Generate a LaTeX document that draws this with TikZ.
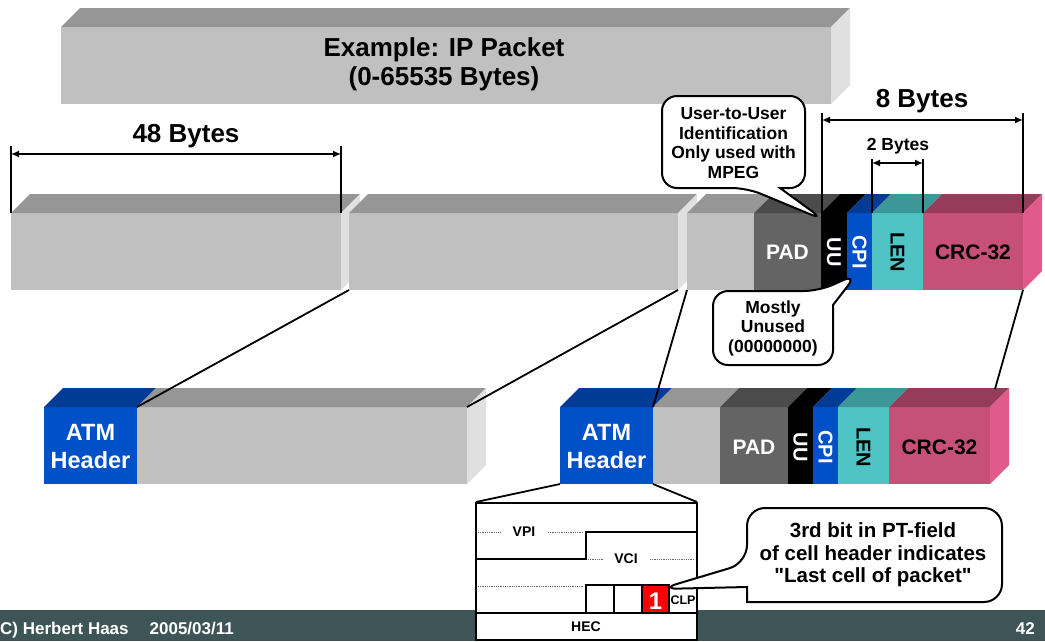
\documentclass[tikz,border=0pt]{standalone}
\usepackage{fontspec}
\setmainfont{Liberation Sans}
\usetikzlibrary{arrows.meta}
\definecolor{fgray}{HTML}{C0C0C0}
\definecolor{tgray}{HTML}{969696}
\definecolor{sgray}{HTML}{E0E0E0}
\definecolor{fpad}{HTML}{646464}
\definecolor{tpad}{HTML}{4B4B4B}
\definecolor{fblue}{HTML}{0050C8}
\definecolor{tblue}{HTML}{003C96}
\definecolor{fteal}{HTML}{50C4C4}
\definecolor{tteal}{HTML}{3C9898}
\definecolor{fcrc}{HTML}{C65078}
\definecolor{tcrc}{HTML}{963C5A}
\definecolor{scrc}{HTML}{E05A8A}
\definecolor{band}{HTML}{3D5556}
\newcommand\blkseg[6]{%
  \fill[#5] (#1,#3) rectangle (#2,#4);
  \fill[#6] (#1,#3) -- (#1+19,#3-19) -- (#2+19,#3-19) -- (#2,#3) -- cycle;}
\newcommand\blkside[4]{%
  \fill[#4] (#1,#2) -- (#1+19,#2-19) -- (#1+19,#3-19) -- (#1,#3) -- cycle;}
\tikzset{
  lbl/.style={inner sep=0, align=center},
  wlbl/.style={lbl, text=white, font=\fontsize{21}{24}\selectfont\bfseries},
  blbl/.style={lbl, text=black, font=\fontsize{21}{24}\selectfont\bfseries},
  dimtxt/.style={lbl, font=\fontsize{26}{29}\selectfont\bfseries},
  dimline/.style={line width=1.5, {Latex[length=8,width=7]}-{Latex[length=8,width=7]}},
  tickline/.style={line width=1.8},
  conn/.style={line width=1.8},
  callout/.style={draw, line width=2, fill=white},
  ctext/.style={lbl, font=\fontsize{17.5}{19.5}\selectfont\bfseries},
  boxline/.style={line width=2},
  dotline/.style={densely dotted, line width=0.8, black!60},
  small/.style={lbl, font=\fontsize{14}{16}\selectfont\bfseries},
}
\begin{document}
\begin{tikzpicture}[x=1pt,y=-1pt]
\useasboundingbox (0,0) rectangle (1045,641);
% footer band
\fill[band] (0,610) rectangle (1045,641);

% IP packet bar
\blkseg{61}{831}{27}{104}{fgray}{tgray}
\blkside{831}{27}{104}{sgray}
\node[dimtxt] (title) at (444,64) {Example: IP Packet\\(0-65535 Bytes)};

% AAL5 PDU bar
\blkseg{11}{341}{213}{290}{fgray}{tgray}
\blkside{341}{213}{290}{sgray}
\blkseg{349}{678}{213}{290}{fgray}{tgray}
\blkside{678}{213}{290}{sgray}
\blkseg{687}{754}{213}{290}{fgray}{tgray}
\blkseg{754}{821}{213}{290}{fpad}{tpad}
\blkseg{821}{847}{213}{290}{black}{black}
\blkseg{847}{872}{213}{290}{fblue}{tblue}
\blkseg{872}{923}{213}{290}{fteal}{tteal}
\blkseg{923}{1023}{213}{290}{fcrc}{tcrc}
\blkside{1023}{213}{290}{scrc}
\node[wlbl] (pad1) at (787.5,252) {PAD};
\node[wlbl, font=\fontsize{20}{22}\selectfont\bfseries, rotate=-90] (uu1) at (834,252) {UU};
\node[wlbl, font=\fontsize{20}{22}\selectfont\bfseries, rotate=-90] (cpi1) at (859.5,252) {CPI};
\node[blbl, font=\fontsize{20}{22}\selectfont\bfseries, rotate=-90] (len1) at (897.5,252) {LEN};
\node[blbl] (crc1) at (973,252) {CRC-32};

% first ATM cell
\blkseg{44}{137}{407}{484}{fblue}{tblue}
\blkseg{137}{467}{407}{484}{fgray}{tgray}
\blkside{467}{407}{484}{sgray}
\node[wlbl, font=\fontsize{23.5}{28}\selectfont\bfseries] (atm1) at (90.5,447) {ATM\\Header};

% last ATM cell
\blkseg{560}{653}{407}{484}{fblue}{tblue}
\blkseg{653}{720}{407}{484}{fgray}{tgray}
\blkseg{720}{788}{407}{484}{fpad}{tpad}
\blkseg{788}{813}{407}{484}{black}{black}
\blkseg{813}{838}{407}{484}{fblue}{tblue}
\blkseg{838}{889}{407}{484}{fteal}{tteal}
\blkseg{889}{990}{407}{484}{fcrc}{tcrc}
\blkside{990}{407}{484}{scrc}
\node[wlbl, font=\fontsize{23.5}{28}\selectfont\bfseries] (atm2) at (606.5,447) {ATM\\Header};
\node[wlbl] (pad2) at (754,447) {PAD};
\node[wlbl, font=\fontsize{20}{22}\selectfont\bfseries, rotate=-90] (uu2) at (800.5,447) {UU};
\node[wlbl, font=\fontsize{20}{22}\selectfont\bfseries, rotate=-90] (cpi2) at (825.5,447) {CPI};
\node[blbl, font=\fontsize{20}{22}\selectfont\bfseries, rotate=-90] (len2) at (863.5,447) {LEN};
\node[blbl] (crc2) at (939.5,447) {CRC-32};

% dimension marks
\coordinate (t48a) at (11,146); \coordinate (b48a) at (11,213);
\coordinate (t48b) at (341,146); \coordinate (b48b) at (341,213);
\draw[tickline] (t48a) -- (b48a);
\draw[tickline] (t48b) -- (b48b);
\coordinate (d48a) at (11,154); \coordinate (d48b) at (341,154);
\draw[dimline] (d48a) -- (d48b);
\node[dimtxt] (l48) at (186,136) {48 Bytes};

\coordinate (t8a) at (822,113); \coordinate (b8a) at (822,213);
\coordinate (t8b) at (1023,113); \coordinate (b8b) at (1023,213);
\draw[tickline] (t8a) -- (b8a);
\draw[tickline] (t8b) -- (b8b);
\coordinate (d8a) at (822,120); \coordinate (d8b) at (1023,120);
\draw[dimline] (d8a) -- (d8b);
\node[dimtxt] (l8) at (922,101) {8 Bytes};

\coordinate (t2a) at (872,159); \coordinate (b2a) at (872,213);
\coordinate (t2b) at (923,159); \coordinate (b2b) at (923,213);
\draw[tickline] (t2a) -- (b2a);
\draw[tickline] (t2b) -- (b2b);
\coordinate (d2a) at (872,163); \coordinate (d2b) at (923,163);
\draw[dimline] (d2a) -- (d2b);
\node[lbl, font=\fontsize{17.5}{19}\selectfont\bfseries] (l2) at (898,146) {2 Bytes};

% mapping lines
\coordinate (a1) at (349,290); \coordinate (c1) at (137,407);
\coordinate (a2) at (678,290); \coordinate (c2) at (467,407);
\coordinate (a3) at (687,290); \coordinate (c3) at (653,407);
\coordinate (a4) at (1023,290); \coordinate (c4) at (995,389);
\draw[conn] (a1) -- (c1);
\draw[conn] (a2) -- (c2);
\draw[conn] (a3) -- (c3);
\draw[conn] (a4) -- (c4);

% callouts
\draw[callout, rounded corners=15] (747,188) -- (824,220) [sharp corners] -- (780,188) [rounded corners=15] -- (805,188) -- (805,96) -- (662,96) -- (662,188) -- cycle;
\node[ctext] (uutxt) at (733.5,143) {User-to-User\\Identification\\Only used with\\MPEG};

\draw[callout, rounded corners=15] (819,291) -- (857,274) [sharp corners] -- (833,305) [rounded corners=15] -- (833,365) -- (713,365) -- (713,291) -- cycle;
\node[ctext] (cpitxt) at (773,328) {Mostly\\Unused\\(00000000)};

% ATM header detail
\coordinate (h1) at (560,484); \coordinate (h2) at (653,484);
\coordinate (k1) at (476,502); \coordinate (k2) at (697,502);
\draw[conn] (h1) -- (k1);
\draw[conn] (h2) -- (k2);
\fill[white] (476,503) rectangle (697,640);
\fill[red] (642,585) rectangle (669,613);
\draw[boxline] (476,503) rectangle (697,640);
\draw[boxline] (476,613) -- (697,613);
\draw[boxline] (476,559) -- (586,559) -- (586,532) -- (697,532);
\draw[boxline] (586,613) -- (586,585) -- (669,585) -- (669,613);
\draw[boxline] (614,585) -- (614,613);
\draw[boxline] (642,585) -- (642,613);
\draw[dotline] (478,532) -- (500,532);
\draw[dotline] (548,532) -- (584,532);
\draw[dotline] (588,559) -- (603,559);
\draw[dotline] (650,559) -- (695,559);
\draw[dotline] (478,586) -- (584,586);
\node[small] (vpi) at (524,532) {VPI};
\node[small] (vci) at (626,559) {VCI};
\node[small] (hec) at (586,627) {HEC};
\node[lbl, font=\fontsize{12.5}{14}\selectfont\bfseries] (clp) at (683,600) {CLP};
\node[lbl, text=white, font=\fontsize{24}{25}\selectfont\bfseries] (bit) at (655.5,601) {1};

\draw[callout, rounded corners=18] (747,563) -- (660,589) [sharp corners] -- (747,587) -- (747,602) [rounded corners=18] -- (1002,602) -- (1002,508) -- (747,508) -- cycle;
\node[lbl, font=\fontsize{20.5}{22.5}\selectfont\bfseries] (pttxt) at (873,555) {3rd bit in PT-field\\of cell header indicates\\\textquotedbl Last cell of packet\textquotedbl};

% footer
\node[anchor=base west, inner sep=0, text=white, font=\fontsize{17}{20}\selectfont\bfseries] (foot) at (0,634) {C) Herbert Haas\hspace{21pt}2005/03/11};
\node[anchor=base east, inner sep=0, text=white, font=\fontsize{17}{20}\selectfont\bfseries] (pg) at (1035,634) {42};
\end{tikzpicture}
\end{document}
